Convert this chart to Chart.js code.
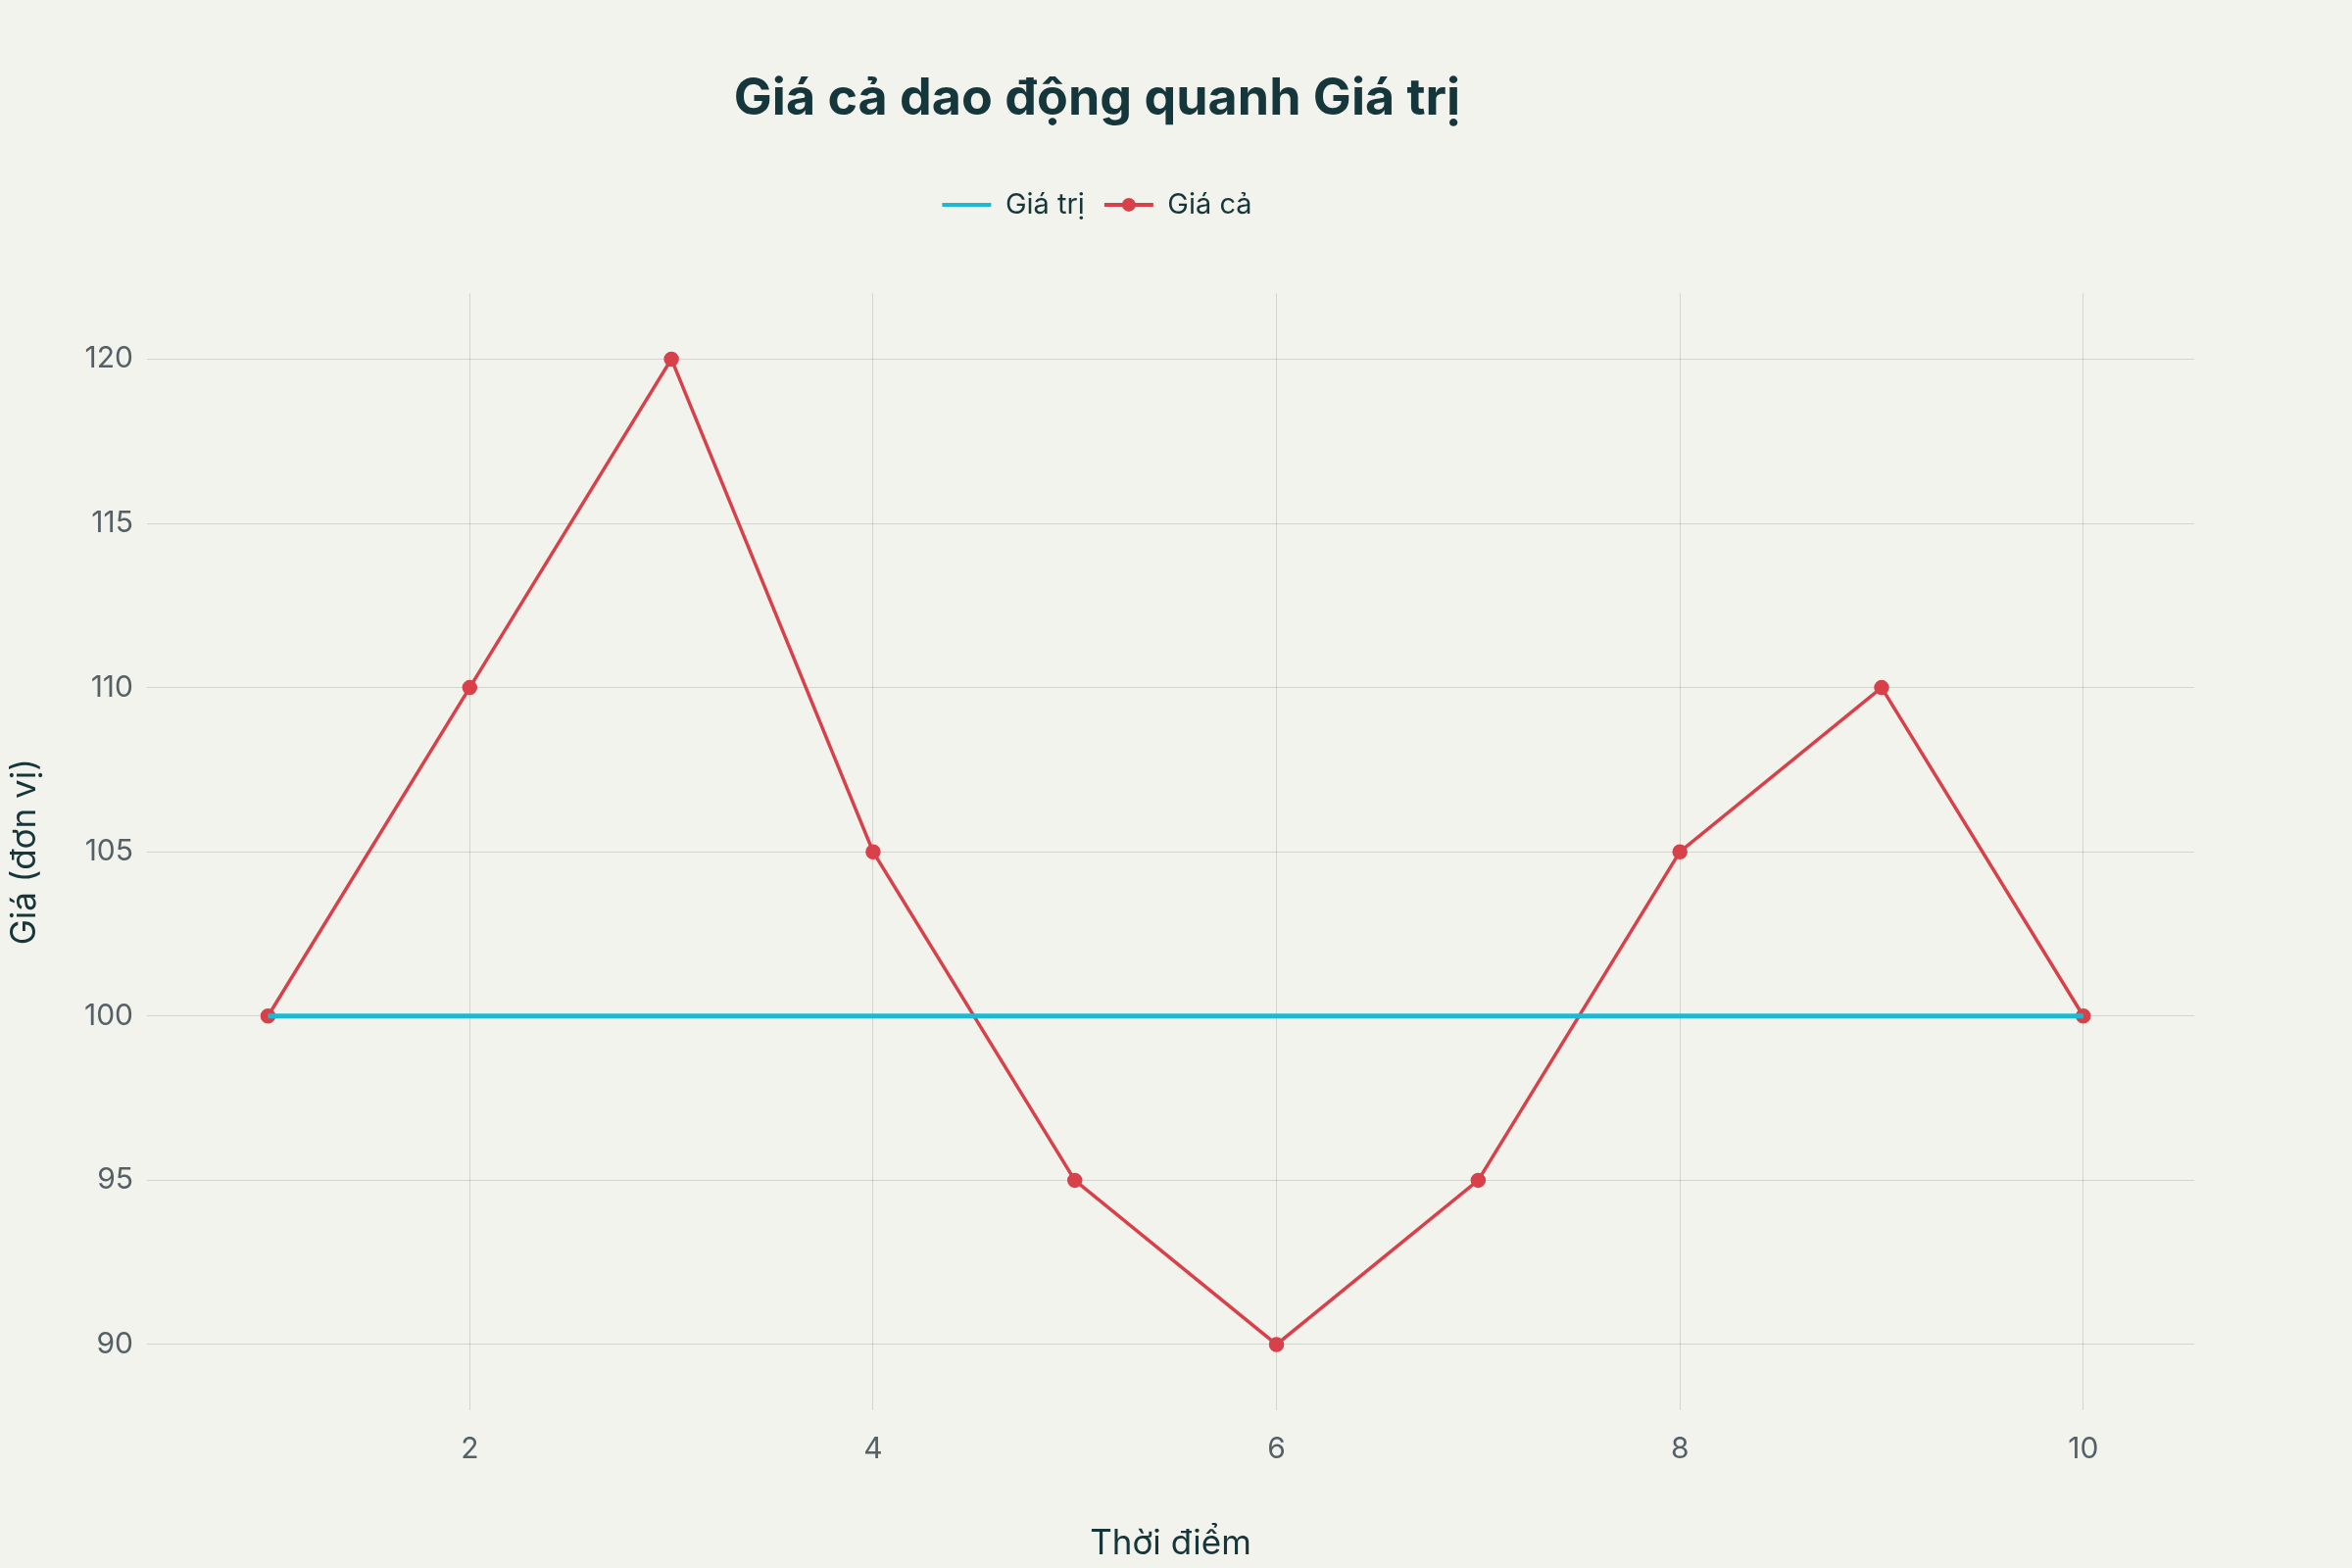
<!DOCTYPE html>
<html><head><meta charset="utf-8">
<script src="https://cdn.jsdelivr.net/npm/chart.js@4"></script>
<style>html,body{margin:0;padding:0;background:#f3f3ee}#w{width:2400px;height:1600px}</style>
</head><body><div id="w"><canvas id="c" width="2400" height="1600"></canvas></div>
<script>
const timePoints=[1,2,3,4,5,6,7,8,9,10];
const valueSeries=[100,100,100,100,100,100,100,100,100,100];
const priceSeries=[100,110,120,105,95,90,95,105,110,100];
const xTicks=[2,4,6,8,10];
const yTicks=[90,95,100,105,110,115,120];
const font='Inter, "Noto Sans", sans-serif';
Chart.defaults.font.family=font;
const bg={id:'bg',beforeDraw(c){const x=c.ctx;x.save();x.fillStyle='#f3f3ee';x.fillRect(0,0,c.width,c.height);x.restore();}};
const legendGap={id:'legendGap',beforeInit(c){const f=c.legend.fit;c.legend.fit=function(){f.bind(c.legend)();this.height+=66;};},
afterDraw(c){const h=c.legend.legendHitBoxes&&c.legend.legendHitBoxes[1];if(!h)return;const x=c.ctx;x.save();x.fillStyle='#d9414a';x.beginPath();x.arc(h.left+25,h.top+h.height/2,7,0,Math.PI*2);x.fill();x.restore();}};
new Chart(document.getElementById('c'),{
type:'line',
data:{datasets:[
{label:'Giá trị',data:timePoints.map((t,i)=>({x:t,y:valueSeries[i]})),borderColor:'#1fb8d2',backgroundColor:'#1fb8d2',borderWidth:5,pointRadius:0,pointStyle:'line'},
{label:'Giá cả',data:timePoints.map((t,i)=>({x:t,y:priceSeries[i]})),borderColor:'#d9414a',backgroundColor:'#d9414a',borderWidth:3.5,pointRadius:6,pointStyle:'circle'}
]},
options:{responsive:false,devicePixelRatio:1,animation:false,
layout:{padding:{left:0,right:161,top:10,bottom:0}},
plugins:{
title:{display:true,text:'Giá cả dao động quanh Giá trị',color:'#15363a',font:{size:52,weight:'bold'},padding:{top:60,bottom:42}},
legend:{labels:{usePointStyle:true,pointStyleWidth:50,color:'#15363a',font:{size:29},boxHeight:12,padding:20,
generateLabels(c){return Chart.defaults.plugins.legend.labels.generateLabels(c).map(l=>{l.pointStyle='line';l.lineWidth=4;return l;});}},padding:0},
tooltip:{enabled:false}},
scales:{
x:{type:'linear',min:0.4,max:10.55,afterBuildTicks(s){s.ticks=xTicks.map(v=>({value:v}));},
grid:{color:'rgba(0,0,0,0.13)',drawTicks:false},border:{display:false},
ticks:{color:'#555f66',font:{size:30},padding:22},
title:{display:true,text:'Thời điểm',color:'#15363a',font:{size:35},padding:{top:36}},
afterFit(s){s.height=161;}},
y:{min:88,max:122,afterBuildTicks(s){s.ticks=yTicks.map(v=>({value:v}));},
grid:{color:'rgba(0,0,0,0.13)',drawTicks:false},border:{display:false},
ticks:{color:'#555f66',font:{size:30},padding:14},
title:{display:true,text:'Giá (đơn vị)',color:'#15363a',font:{size:35}},
afterFit(s){s.width=150;}}
}},
plugins:[bg,legendGap]});
</script></body></html>
